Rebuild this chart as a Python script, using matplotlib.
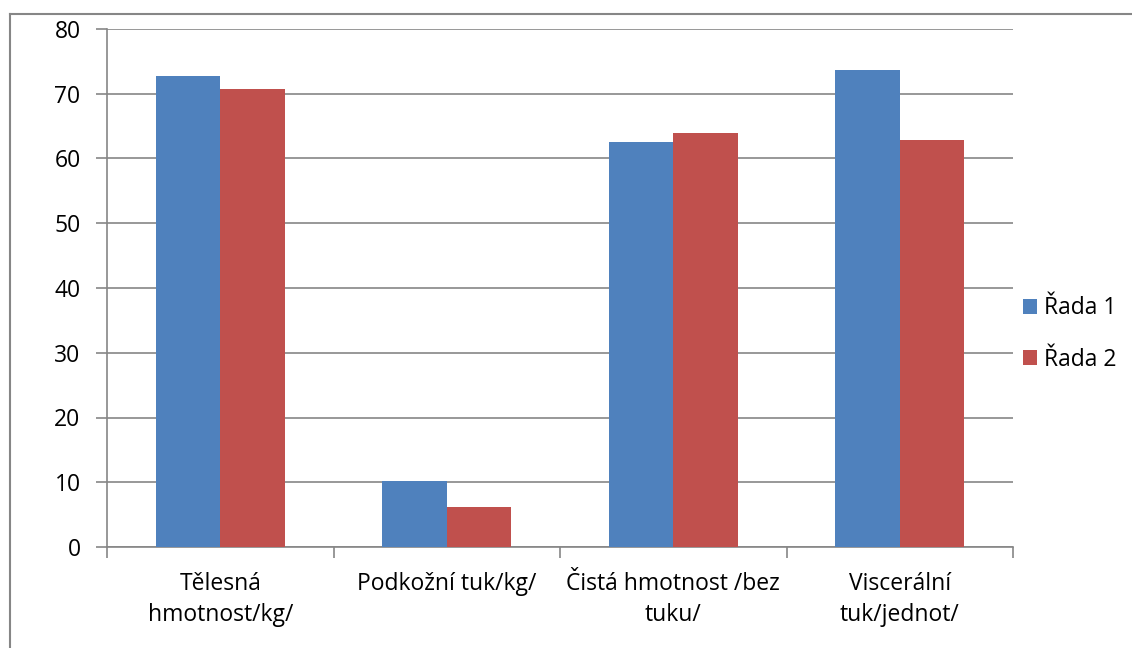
import matplotlib.pyplot as plt
from matplotlib.lines import Line2D
import numpy as np

# data
kategorie = ["Tělesná\nhmotnost/kg/", "Podkožní tuk/kg/", "Čistá hmotnost /bez\ntuku/", "Viscerální\ntuk/jednot/"]
rada1 = [72.8, 10.2, 62.5, 73.7]
rada2 = [70.7, 6.2, 64.0, 62.8]
serie = ["Řada 1", "Řada 2"]
y_ticks = [0, 10, 20, 30, 40, 50, 60, 70, 80]

modra = "#4F81BD"
cervena = "#C0504D"
seda = "#868686"

plt.rcParams['font.family'] = ['Open Sans', 'DejaVu Sans']
velikost = 16.5

fig = plt.figure(figsize=(11.32, 6.48), dpi=100)
ax = fig.add_axes([107 / 1132, 1 - 547 / 648, (1013 - 107) / 1132, (547 - 29) / 648])

x = np.arange(len(kategorie))
sirka = 1 / 3.5
ax.bar(x - sirka / 2, rada1, sirka, color=modra, label=serie[0], zorder=3)
ax.bar(x + sirka / 2, rada2, sirka, color=cervena, label=serie[1], zorder=3)

ax.set_xlim(-0.5, len(kategorie) - 0.5)
ax.set_ylim(0, 80)
ax.set_yticks(y_ticks)
ax.yaxis.grid(True, color=seda, linewidth=1.2, zorder=0)

# category labels without ticks, boundary ticks separately
ax.set_xticks(x)
ax.set_xticklabels(kategorie, fontsize=velikost, linespacing=1.4, va='top')
ax.set_xticks(np.arange(-0.5, len(kategorie)), minor=True)
ax.tick_params(axis='x', which='major', length=0, pad=18)
ax.tick_params(axis='x', which='minor', length=8, width=1.2, color=seda)
ax.tick_params(axis='y', length=8, width=1.2, color=seda, labelsize=velikost, pad=11)

for s in ['top', 'right']:
    ax.spines[s].set_visible(False)
for s in ['left', 'bottom']:
    ax.spines[s].set_color(seda)
    ax.spines[s].set_linewidth(1.2)

fig.legend(loc='center left', bbox_to_anchor=(1018 / 1132, 1 - 334 / 648), frameon=False,
           fontsize=velikost, handlelength=0.65, handleheight=0.65, handletextpad=0.3,
           labelspacing=1.2, borderaxespad=0.0, borderpad=0.2)

# outer frame (top and left only visible)
fig.add_artist(Line2D([9.5 / 1132, 1], [1 - 14 / 648, 1 - 14 / 648], color=seda, linewidth=1.5))
fig.add_artist(Line2D([9.5 / 1132, 9.5 / 1132], [0, 1 - 14 / 648], color=seda, linewidth=1.5))

fig.savefig("out.png", dpi=100)
